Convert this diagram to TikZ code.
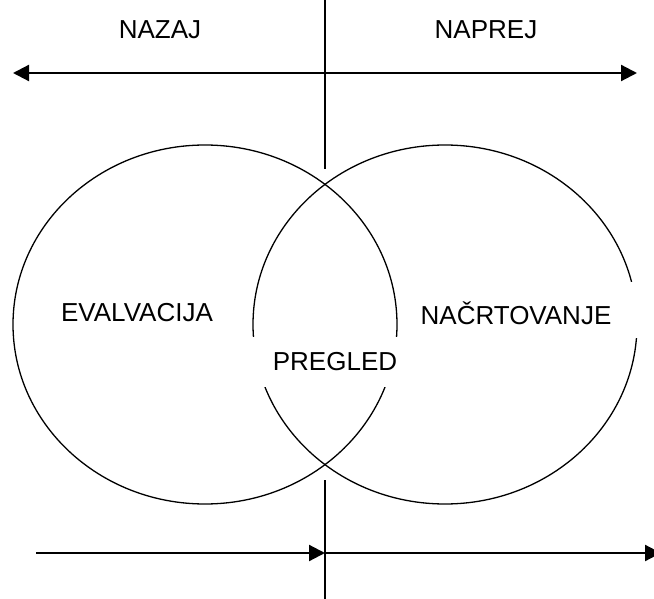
\documentclass[tikz,border=0pt]{standalone}
\usepackage{fontspec}
\setmainfont{Liberation Sans}
\usetikzlibrary{arrows.meta}
\begin{document}
\begin{tikzpicture}[x=1pt,y=-1pt,
  ring/.style={draw=black,line width=1.3pt},
  axis/.style={draw=black,line width=1.5pt},
  flow/.style={draw=black,line width=2.2pt},
  tip/.tip={Triangle[length=16pt,width=16pt]},
  lbl/.style={font=\fontsize{26}{30}\selectfont,inner sep=0pt,anchor=center},
  mask/.style={fill=white,draw=none,inner sep=0pt}]
\useasboundingbox (0,0) rectangle (654,599);

% the two overlapping ovals
\draw[ring] (205,324.5) ellipse [x radius=192, y radius=179.5];
\draw[ring] (445,324.5) ellipse [x radius=192, y radius=179.5];

% white label backgrounds that interrupt the ovals
\node[mask,minimum width=237pt,minimum height=56pt] (bgplan) at (523.5,310) {};
\node[mask,minimum width=158pt,minimum height=50pt] (bgrev) at (325,362) {};

% labels
\node[lbl] (nazaj) at (160,30) {NAZAJ};
\node[lbl] (naprej) at (486,30) {NAPREJ};
\node[lbl] (eval) at (137,313) {EVALVACIJA};
\node[lbl] (plan) at (516,313) {NAČRTOVANJE};
\node[lbl] (rev) at (335,362) {PREGLED};

% vertical divider
\coordinate (vt0) at (325,0);
\coordinate (vt1) at (325,169);
\coordinate (vb0) at (325,480);
\coordinate (vb1) at (325,599);
\draw[axis] (vt0) -- (vt1);
\draw[axis] (vb0) -- (vb1);

% top double arrow
\coordinate (tl) at (13,73);
\coordinate (tr) at (637,73);
\draw[flow,{tip}-{tip}] (tl) -- (tr);

% bottom arrows
\coordinate (bl) at (36,553);
\coordinate (bm) at (325,553);
\coordinate (br) at (661,553);
\draw[flow,-{tip}] (bl) -- (bm);
\draw[flow,-{tip}] (bm) -- (br);
\end{tikzpicture}
\end{document}
